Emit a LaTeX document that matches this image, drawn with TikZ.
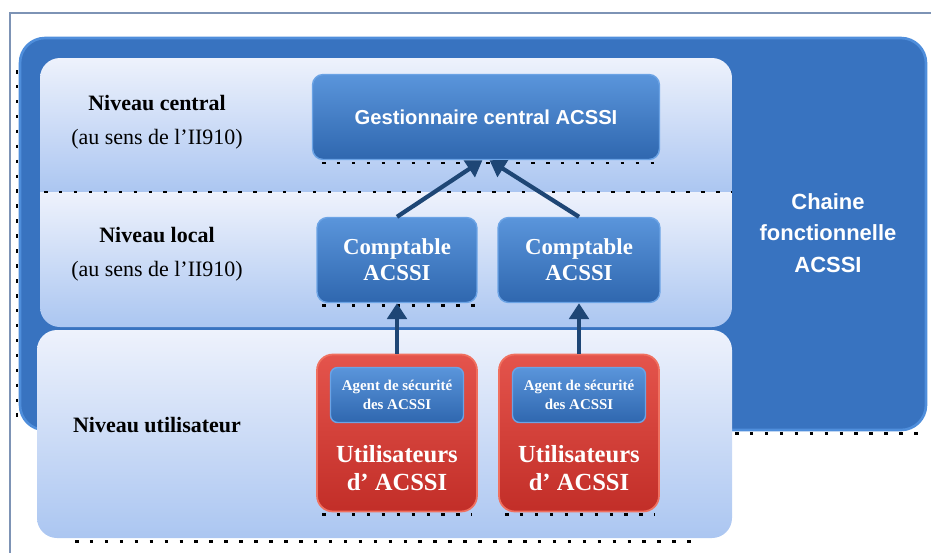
\documentclass[tikz,border=0pt]{standalone}
\usepackage{fontspec}
\setmainfont{Liberation Serif}
\newfontfamily\chainfont{Liberation Sans}
\usetikzlibrary{
  arrows.meta,
  shadings,
}

\definecolor{framegrey}{HTML}{7D93B5}
\definecolor{chainfill}{HTML}{3873C0}
\definecolor{chainedge}{HTML}{4F8EDB}
\definecolor{paneltop}{HTML}{EEF2FC}
\definecolor{panelbot}{HTML}{ABC6F1}
\definecolor{nodetop}{HTML}{5A95DB}
\definecolor{nodebot}{HTML}{2F67AF}
\definecolor{nodeedge}{HTML}{6BA3E5}
\definecolor{redtop}{HTML}{E4544C}
\definecolor{redbot}{HTML}{C22E28}
\definecolor{rededge}{HTML}{F0705F}
\definecolor{arrownavy}{HTML}{1E4675}

\begin{document}
\begin{tikzpicture}[
  x=0.02cm, y=-0.02cm,
  bluebox/.style={draw=nodeedge, line width=0.8pt, rounded corners=6pt,
    top color=nodetop, bottom color=nodebot, text=white, align=center,
    inner sep=0pt, font=\bfseries\fontsize{13}{15}\selectfont},
  redbox/.style={draw=rededge, line width=1pt, rounded corners=9pt,
    top color=redtop, bottom color=redbot, inner sep=0pt,
    minimum width=3.2cm, minimum height=3.14cm},
  agentbox/.style={bluebox, rounded corners=4pt, minimum width=2.66cm,
    minimum height=1.1cm, font=\bfseries\fontsize{8.5}{10.5}\selectfont},
  usertext/.style={text=white, align=center,
    font=\bfseries\fontsize{14}{16}\selectfont},
  levellabel/.style={font=\bfseries\fontsize{12.5}{14}\selectfont},
  levelnote/.style={font=\fontsize{12.5}{14}\selectfont},
  flow/.style={draw=arrownavy, line width=2.4pt,
    -{Triangle[length=9pt,width=11pt]}},
  dotrow/.style={draw=black, line width=1.7pt, dash pattern=on 2pt off 6.5pt},
]
\useasboundingbox (0,0) rectangle (931,552);

% frame and functional chain
\draw[framegrey, line width=1.3pt] (10,570) -- (10,13) -- (945,13);
\draw[chainedge, fill=chainfill, line width=1.5pt, rounded corners=0.5cm] (20,38) rectangle (926,430);
\node[text=white, align=center, font=\chainfont\bfseries\fontsize{12.5}{18}\selectfont]
  (chain) at (828,233) {Chaine\\fonctionnelle\\ACSSI};

% level panels
\begin{scope}
  \clip[rounded corners=0.4cm] (40,58) rectangle (732,327);
  \shade[top color=paneltop, bottom color=panelbot] (40,58) rectangle (732,192);
  \shade[top color=paneltop, bottom color=panelbot] (40,192) rectangle (732,327);
\end{scope}
\shade[top color=paneltop, bottom color=panelbot, rounded corners=0.4cm] (37,330) rectangle (732,538);

\draw[dotrow] (44,192) -- (732,192);
\draw[dotrow] (75,541) -- (700,541);
\draw[dotrow] (17,70) -- (17,425);
\draw[dotrow] (735,433) -- (918,433);

% level labels
\node[levellabel] (central) at (157,103) {Niveau central};
\node[levelnote] (centraln) at (157,139) {(au sens de l’II910)};
\node[levellabel] (local) at (157,235) {Niveau local};
\node[levelnote] (localn) at (157,271) {(au sens de l’II910)};
\node[levellabel] (user) at (157,425) {Niveau utilisateur};

% boxes
\node[bluebox, minimum width=6.94cm, minimum height=1.7cm,
  font=\chainfont\bfseries\fontsize{11.5}{14}\selectfont]
  (gest) at (486,117) {Gestionnaire central ACSSI};
\node[bluebox, minimum width=3.2cm, minimum height=1.7cm] (compta1) at (397,260) {Comptable\\ACSSI};
\node[bluebox, minimum width=3.24cm, minimum height=1.7cm] (compta2) at (579,260) {Comptable\\ACSSI};

\node[redbox] (users1) at (397,433) {};
\node[redbox] (users2) at (579,433) {};
\node[agentbox] (agent1) at (397,395) {Agent de sécurité\\des ACSSI};
\node[agentbox] (agent2) at (579,395) {Agent de sécurité\\des ACSSI};
\node[usertext] (utext1) at (397,468) {Utilisateurs\\d’ ACSSI};
\node[usertext] (utext2) at (579,468) {Utilisateurs\\d’ ACSSI};

\draw[dotrow] (322,163) -- (655,163);
\draw[dotrow] (322,305) -- (475,305);
\draw[dotrow] (322,514) -- (472,514);
\draw[dotrow] (505,514) -- (655,514);

% flows
\draw[flow] (users1.north) -- (compta1.south);
\draw[flow] (users2.north) -- (compta2.south);
\draw[flow] (compta1.north) -- ([xshift=-2pt]gest.south);
\draw[flow] (compta2.north) -- ([xshift=2pt]gest.south);
\end{tikzpicture}
\end{document}
